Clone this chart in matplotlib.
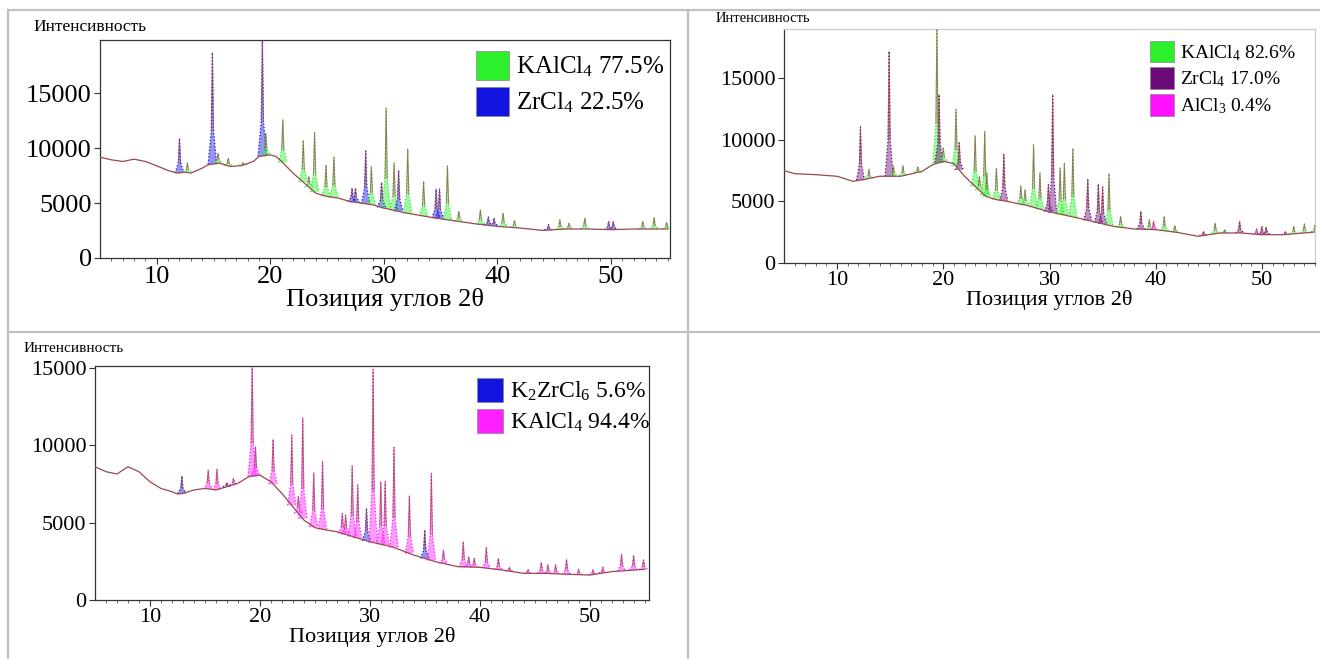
import matplotlib
matplotlib.use('Agg')
from matplotlib import pyplot as plt
from matplotlib.patches import Patch
from matplotlib.lines import Line2D
import numpy as np

plt.rcParams['font.family'] = ['Liberation Serif', 'DejaVu Serif']
plt.rcParams['mathtext.default'] = 'regular'

# ---- panel 1 : KAlCl4 77.5% / ZrCl4 22.5% ----
bg1_x = [5, 6, 7, 8, 9, 10, 11, 11.8, 12.5, 13, 14, 14.5, 15.5, 16.5, 17.5, 18.5, 19, 20, 20.5, 21,
         22, 23, 24, 25, 26, 27, 28, 29, 30, 32, 34, 36, 38, 40, 42, 44, 46, 48, 50, 52, 55]
bg1_y = [9180, 8940, 8790, 9000, 8790, 8390, 7970, 7730, 7820, 7730, 8180, 8480, 8640, 8330, 8420, 8790, 9240, 9390, 9240, 8790,
         7730, 6820, 5900, 5600, 5450, 5150, 5000, 4850, 4550, 4090, 3730, 3420, 3120, 2880, 2730, 2510, 2640, 2640, 2580, 2640, 2640]
pk1_pos = [12.0, 12.7, 14.9, 15.4, 16.3, 17.6, 19.3, 19.6, 21.1, 22.9, 23.4, 23.9, 24.9, 25.6, 27.2, 27.5,
           28.4, 28.9, 29.8, 30.2, 30.9, 31.3, 32.1, 33.5, 34.6, 34.9, 35.6, 36.6, 38.5, 39.2, 39.7, 40.5,
           41.5, 44.5, 45.5, 46.3, 47.7, 49.8, 50.2, 52.8, 53.8, 54.9]
pk1_int = [10900, 8640, 18700, 9550, 9090, 8700, 19800, 11360, 12570, 10700, 7420, 11420, 8480, 9180, 6360, 6360,
           9750, 8330, 6880, 13640, 8640, 7970, 9940, 6970, 6270, 6270, 8390, 4240, 4390, 3730, 3640, 4090,
           3420, 3030, 3480, 3180, 3640, 3330, 3330, 3330, 3700, 3240]
pk1_phase = [1, 0, 1, 0, 0, 0, 1, 0, 0, 0, 0, 0, 0, 0, 1, 1,
             1, 0, 1, 0, 0, 1, 0, 0, 1, 1, 0, 0, 0, 1, 1, 0,
             0, 1, 0, 0, 0, 1, 1, 0, 0, 0]
phases1 = ['KAlCl$_4$ 77.5%', 'ZrCl$_4$ 22.5%']
colors1 = ['#2cf02c', '#1414e0']

# ---- panel 2 : KAlCl4 82.6% / ZrCl4 17.0% / AlCl3 0.4% ----
bg2_x = [5, 6, 8, 10, 11.5, 12.5, 14, 16, 18, 19, 20, 21, 22, 23, 24, 25, 26, 28, 30, 32,
         34, 36, 38, 40, 42, 44, 46, 48, 50, 52, 55]
bg2_y = [7510, 7260, 7180, 7050, 6640, 6780, 7050, 7050, 7450, 7990, 8270, 8080, 7050, 6230, 5420, 5150, 5010, 4660, 4150, 3790,
         3390, 2980, 2760, 2710, 2490, 2170, 2440, 2440, 2300, 2300, 2520]
pk2_pos = [12.2, 13.0, 14.9, 15.3, 16.2, 17.6, 19.4, 19.6, 20.0, 21.2, 21.5, 23.0, 23.4, 23.9, 24.1, 25.0,
           25.7, 27.3, 27.7, 28.5, 29.1, 29.9, 30.3, 31.0, 31.4, 32.2, 33.6, 34.6, 35.0, 35.6, 36.7, 38.6,
           39.4, 39.8, 40.8, 41.8, 44.5, 45.6, 46.5, 47.9, 49.5, 50.0, 50.4, 52.2, 53.0, 54.0, 55.0]
pk2_int = [11060, 7590, 17210, 7860, 7910, 7800, 19020, 13690, 9350, 12470, 9760, 10350, 7050, 10700, 7320, 7720,
           8810, 6290, 5960, 9620, 7320, 6370, 13690, 7720, 8130, 9300, 6830, 6420, 6180, 7260, 3790, 4200,
           3520, 3390, 3790, 3040, 2570, 3250, 2710, 3390, 2760, 2980, 2930, 2570, 2980, 3170, 3120]
pk2_phase = [1, 0, 1, 0, 0, 0, 0, 1, 0, 0, 1, 0, 0, 0, 0, 0,
             1, 0, 0, 0, 0, 1, 1, 0, 0, 0, 1, 1, 1, 0, 0, 1,
             0, 2, 0, 0, 1, 0, 0, 1, 2, 1, 1, 2, 0, 0, 0]
phases2 = ['KAlCl$_4$ 82.6%', 'ZrCl$_4$ 17.0%', 'AlCl$_3$ 0.4%']
colors2 = ['#2cf02c', '#6a0a78', '#ff10ff']

# ---- panel 3 : K2ZrCl6 5.6% / KAlCl4 94.4% ----
bg3_x = [5, 6, 7, 8, 9, 10, 11, 12, 12.5, 13, 14, 15, 16, 17, 18, 19, 20, 21, 22, 23,
         24, 25, 26, 27, 28, 30, 32, 34, 36, 38, 40, 42, 44, 46, 48, 50, 52, 55]
bg3_y = [8600, 8280, 8130, 8600, 8280, 7630, 7200, 6990, 6840, 6880, 7100, 7200, 7100, 7310, 7530, 7960, 8060, 7630, 6880, 6020,
         5160, 4670, 4520, 4410, 4190, 3760, 3440, 2900, 2470, 2150, 2110, 1940, 1720, 1720, 1660, 1610, 1830, 1980]
pk3_pos = [12.9, 15.3, 16.1, 17.0, 17.6, 19.3, 19.6, 21.2, 22.9, 23.5, 23.9, 24.9, 25.7, 27.5, 27.8, 28.4,
           28.9, 29.7, 30.3, 31.0, 31.4, 32.2, 33.6, 35.0, 35.6, 36.7, 38.5, 39.0, 39.5, 40.6, 41.7, 42.7,
           44.4, 45.6, 46.2, 46.9, 47.9, 49.0, 50.3, 51.2, 52.9, 54.0, 54.9]
pk3_int = [8000, 8390, 8430, 7570, 7850, 15100, 9890, 10360, 10640, 6670, 11720, 8210, 8970, 5590, 5480, 8640,
           7420, 5910, 14880, 7630, 7630, 9850, 6730, 4520, 8170, 3230, 3760, 2800, 2690, 3400, 2690, 2110,
           1980, 2430, 2260, 2260, 2620, 1980, 1940, 2110, 2970, 2880, 2580]
pk3_phase = [0, 1, 1, 0, 1, 1, 1, 1, 1, 1, 1, 1, 1, 1, 1, 1,
             1, 0, 1, 1, 1, 1, 1, 0, 1, 1, 1, 1, 1, 1, 1, 1,
             1, 1, 1, 1, 1, 1, 1, 1, 1, 1, 1]
phases3 = ['K$_2$ZrCl$_6$ 5.6%', 'KAlCl$_4$ 94.4%']
colors3 = ['#1414e0', '#ff20ff']

TRACE = '#9a4850'
W = 1320
H = 659

fig = plt.figure(figsize=(13.2, 6.59), dpi=100)


def px_axes(l, t, r, b):
    return fig.add_axes([l / W, 1 - b / H, (r - l) / W, (b - t) / H])


def draw_panel(ax, bx, by, pos, inten, phase, cols, ymax):
    ax.plot(bx, by, color=TRACE, lw=0.9, zorder=3)
    for p, h, k in zip(pos, inten, phase):
        base = np.interp(p, bx, by)
        sh = base + 0.3 * (h - base)
        xs = [p - 0.38, p - 0.1, p, p + 0.1, p + 0.38]
        ys = [base, sh, h, sh, base]
        ax.fill(xs, ys, color=cols[k], alpha=0.45, lw=0, zorder=2)
        ax.plot(xs, ys, color=cols[k], lw=0.9, ls=':', zorder=2)
        ax.plot(xs[1:4], ys[1:4], color=TRACE, lw=0.7, alpha=0.7, zorder=3)
    ax.set_xlim(5, 55.2)
    ax.set_ylim(0, ymax)
    ax.set_xticks([10, 20, 30, 40, 50])
    ax.set_xticks(np.arange(6, 56, 1), minor=True)
    ax.set_yticks([0, 5000, 10000, 15000])
    ax.tick_params(axis='both', direction='out', length=4, width=0.8, color='#333333', pad=2)
    ax.tick_params(axis='x', which='minor', length=2.5, width=0.6, color='#555555')
    for s in ax.spines.values():
        s.set_color('#333333')
        s.set_linewidth(0.9)


def add_legend(ax, labels, cols, fs, anchor, hl):
    handles = [Patch(facecolor=c, edgecolor='#888888', lw=0.5) for c in cols]
    ax.legend(handles, labels, loc='upper left', bbox_to_anchor=anchor, frameon=False,
              fontsize=fs, handlelength=hl, handleheight=hl * 1.1, handletextpad=0.3,
              labelspacing=0.25, borderpad=0, borderaxespad=0)


# panel 1
ax1 = px_axes(100, 40, 670, 258)
draw_panel(ax1, bg1_x, bg1_y, pk1_pos, pk1_int, pk1_phase, colors1, 19850)
ax1.tick_params(labelsize=19)
ax1.set_xlabel('Позиция углов 2θ', fontsize=19, labelpad=0)
add_legend(ax1, phases1, colors1, 18, (0.66, 0.95), 1.3)
fig.text(33 / W, 1 - 27 / H, 'Интенсивность', fontsize=12.5, va='center', ha='left')

# panel 2
ax2 = px_axes(784, 29, 1315, 263)
draw_panel(ax2, bg2_x, bg2_y, pk2_pos, pk2_int, pk2_phase, colors2, 19020)
ax2.set_xlim(5, 55)
ax2.spines['top'].set_color('#cccccc')
ax2.spines['right'].set_color('#cccccc')
ax2.tick_params(labelsize=16)
ax2.set_xlabel('Позиция углов 2θ', fontsize=16, labelpad=0)
add_legend(ax2, phases2, colors2, 14, (0.69, 0.95), 1.2)
fig.text(716 / W, 1 - 18 / H, 'Интенсивность', fontsize=10.5, va='center', ha='left')

# panel 3
ax3 = px_axes(95, 366, 649, 600)
draw_panel(ax3, bg3_x, bg3_y, pk3_pos, pk3_int, pk3_phase, colors3, 15100)
ax3.set_xlim(5, 55.4)
ax3.tick_params(labelsize=16)
ax3.set_xlabel('Позиция углов 2θ', fontsize=16, labelpad=0)
add_legend(ax3, phases3, colors3, 17, (0.69, 0.95), 1.1)
fig.text(24 / W, 1 - 348 / H, 'Интенсивность', fontsize=11, va='center', ha='left')

# table grid lines
grid = dict(color='#c0c0c0', lw=1.6, transform=fig.transFigure)
fig.add_artist(Line2D([8 / W, 1], [1 - 10 / H, 1 - 10 / H], **grid))
fig.add_artist(Line2D([8 / W, 8 / W], [1 - 10 / H, 1 - 658 / H], **grid))
fig.add_artist(Line2D([688 / W, 688 / W], [1 - 10 / H, 1 - 658 / H], **grid))
fig.add_artist(Line2D([8 / W, 1], [1 - 332 / H, 1 - 332 / H], **grid))

fig.savefig('out.png', dpi=100)
